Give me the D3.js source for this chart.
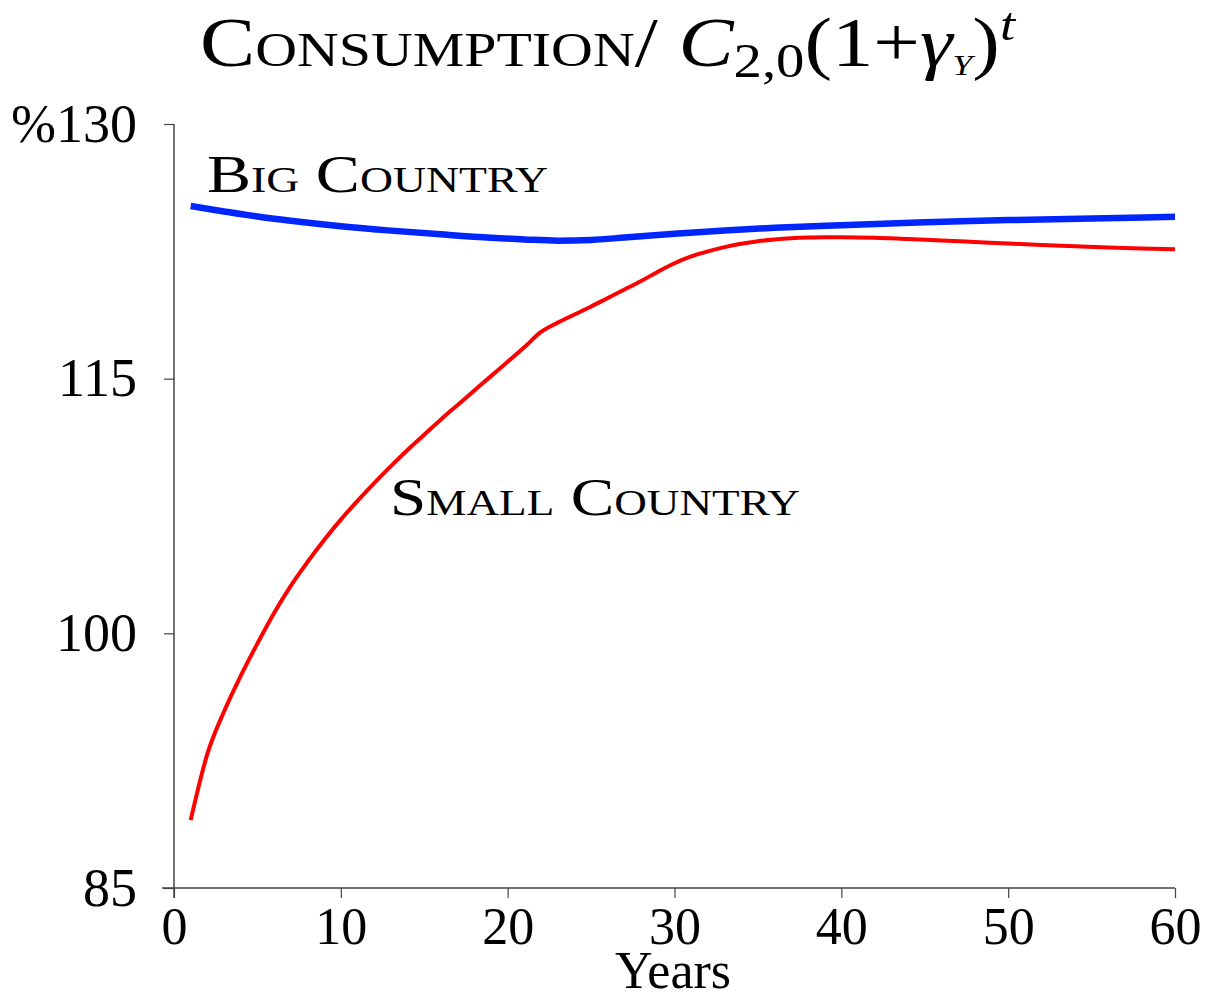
<!DOCTYPE html>
<html>
<head>
<meta charset="utf-8">
<script src="https://cdn.jsdelivr.net/npm/d3@7"></script>
<style>
  html, body { margin: 0; padding: 0; background: #fff; }
  svg { display: block; }
  text { font-family: "Liberation Serif", "Times New Roman", serif; fill: #000; }
</style>
</head>
<body>
<svg id="chart" width="1209" height="998"></svg>
<script>
// ---- data ----
const xTicks = [0, 10, 20, 30, 40, 50, 60];
const yTicks = [85, 100, 115, 130];

const bigYears  = [1, 3, 5, 7, 10, 13, 16, 19, 21, 23, 25, 27, 30, 33, 36, 40, 45, 50, 55, 60];
const bigValues = [125.17, 124.85, 124.55, 124.30, 123.98, 123.72, 123.50, 123.30, 123.20, 123.13,
                   123.17, 123.31, 123.54, 123.73, 123.89, 124.04, 124.21, 124.34, 124.44, 124.53];

const smallYears  = [1, 2, 3, 4, 5, 6, 7, 8, 9, 10, 11, 12, 13, 14, 15, 16, 17, 18, 19, 20,
                     21, 22, 23, 24, 25, 26, 27, 28, 29, 30, 31, 32, 33, 34, 35, 36, 37, 38, 39, 40,
                     42, 44, 46, 48, 50, 52, 54, 56, 58, 60];
const smallValues = [89.0, 92.9, 95.4, 97.5, 99.4, 101.2, 102.8, 104.2, 105.5, 106.7,
                     107.8, 108.85, 109.85, 110.8, 111.7, 112.6, 113.45, 114.3, 115.15, 116.0,
                     116.85, 117.75, 118.3, 118.78, 119.25, 119.75, 120.25, 120.75, 121.3, 121.8,
                     122.2, 122.5, 122.75, 122.95, 123.1, 123.2, 123.27, 123.31, 123.33, 123.33,
                     123.3, 123.22, 123.14, 123.05, 122.96, 122.88, 122.8, 122.73, 122.67, 122.62];

// ---- layout ----
const svg = d3.select("#chart");
const x = d3.scaleLinear().domain([0, 60]).range([174, 1175]);
const y = d3.scaleLinear().domain([85, 130]).range([888, 124]);
const axisColor = "#444";

// x axis
const gx = svg.append("g").attr("transform", `translate(0,${y(85)})`)
  .call(d3.axisBottom(x).tickValues(xTicks).tickSize(10).tickPadding(9).tickSizeOuter(0));
gx.select(".domain").attr("stroke", axisColor).attr("stroke-width", 1.5)
  .attr("d", `M${x(0) - 12},0H${x(60)}`);
gx.selectAll(".tick line").attr("stroke", axisColor).attr("stroke-width", 1.2);
gx.selectAll(".tick text").attr("font-size", 52).attr("font-family", "Liberation Serif").attr("fill", "#000");

// y axis
const gy = svg.append("g").attr("transform", `translate(${x(0)},0)`)
  .call(d3.axisLeft(y).tickValues(yTicks).tickSize(10).tickPadding(27).tickSizeOuter(0)
    .tickFormat(d => d === 130 ? "%130" : String(d)));
gy.select(".domain").attr("stroke", axisColor).attr("stroke-width", 1.5)
  .attr("d", `M0,${y(130)}V${y(85) + 10}`);
gy.selectAll(".tick line").attr("stroke", axisColor).attr("stroke-width", 1.2);
gy.selectAll(".tick text").attr("font-size", 54).attr("font-family", "Liberation Serif").attr("fill", "#000");

// lines
const line = d3.line().x(d => x(d[0])).y(d => y(d[1]));
svg.append("path")
  .datum(smallYears.map((t, i) => [t, smallValues[i]]))
  .attr("fill", "none").attr("stroke", "#ff0000").attr("stroke-width", 4)
  .attr("stroke-linejoin", "round")
  .attr("d", line.curve(d3.curveMonotoneX));
svg.append("path")
  .datum(bigYears.map((t, i) => [t, bigValues[i]]))
  .attr("fill", "none").attr("stroke", "#0026ff").attr("stroke-width", 6.5)
  .attr("stroke-linejoin", "round")
  .attr("d", line.curve(d3.curveMonotoneX));

// labels
function scLabel(txt, xPos, yPos, size, width) {
  return svg.append("text").attr("x", xPos).attr("y", yPos)
    .attr("font-size", size).style("font-variant", "small-caps")
    .attr("textLength", width).attr("lengthAdjust", "spacingAndGlyphs")
    .text(txt);
}
scLabel("Big Country", 207, 192, 52, 341);
scLabel("Small Country", 390, 515, 52, 410);

// x axis title
svg.append("text").attr("x", 673).attr("y", 988).attr("text-anchor", "middle")
  .attr("font-size", 52).text("Years");

// chart title
const title = svg.append("text").attr("x", 200).attr("y", 66).attr("font-size", 70)
  .attr("textLength", 815).attr("lengthAdjust", "spacingAndGlyphs");
title.append("tspan").style("font-variant", "small-caps").text("Consumption");
title.append("tspan").text("/  ");
title.append("tspan").attr("font-style", "italic").text("C");
title.append("tspan").attr("font-size", 48).attr("dy", 11).text("2,0");
title.append("tspan").attr("dy", -11).text("(1+");
title.append("tspan").attr("font-style", "italic").text("γ");
title.append("tspan").attr("font-size", 30).attr("dy", 9).attr("font-style", "italic").text("Y");
title.append("tspan").attr("dy", -9).text(")");
title.append("tspan").attr("font-size", 46).attr("font-style", "italic").attr("dy", -26).text("t");
</script>
</body>
</html>
